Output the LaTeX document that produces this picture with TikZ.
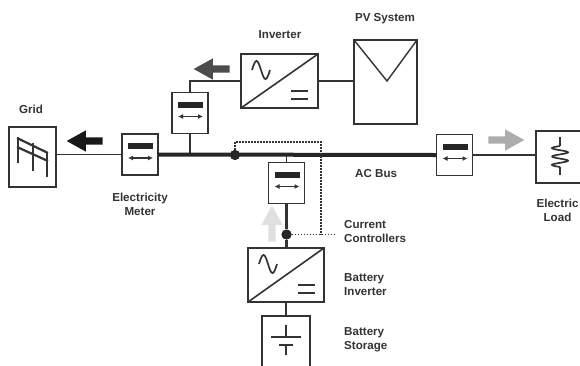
\documentclass[tikz,border=0pt]{standalone}
\usepackage{fontspec}
\setmainfont{Liberation Sans}
\usepackage{xcolor}
\usetikzlibrary{shapes.arrows,arrows.meta}
\definecolor{inkgray}{HTML}{333333}
\tikzset{
    wire/.style={draw=inkgray, line width=1.4pt},
    heavywire/.style={draw=inkgray, line width=2.2pt},
    buswire/.style={draw=black!85, line width=4pt},
    ctrlwire/.style={draw=inkgray, line width=1.9pt, dash pattern=on 1.7pt off 1.3pt},
    unitbox/.style={draw=inkgray, fill=white, line width=1.9pt, inner sep=0pt, outer sep=0pt},
    meterbox/.style={unitbox, minimum width=36pt, minimum height=41pt},
    dotnode/.style={circle, fill=black!85, inner sep=0pt, minimum size=10pt},
    flowarrow/.style={single arrow, draw=none, inner sep=3.5pt, outer sep=0pt, minimum height=36pt,
        minimum width=21pt, single arrow head extend=7pt, single arrow tip angle=58},
    lbl/.style={text=inkgray, font=\fontsize{11.6}{14}\selectfont\bfseries, inner sep=0pt, align=left}
}
\begin{document}
\begin{tikzpicture}[x=1pt, y=-1pt]
                \useasboundingbox (0,0) rectangle (580,365);
                % boxes
                \node[unitbox, minimum width=47pt, minimum height=60pt] (grid) at (32.5,157) {};
                \node[meterbox] (meterGrid) at (140,154.5) {};
                \node[meterbox] (meterPV) at (190,113) {};
                \node[meterbox] (meterBat) at (286.5,183) {};
                \node[meterbox] (meterLoad) at (454.5,155) {};
                \node[unitbox, minimum width=77pt, minimum height=54pt] (pvInverter) at (279.5,81) {};
                \node[unitbox, minimum width=63pt, minimum height=84pt] (pvSystem) at (385.5,82) {};
                \node[unitbox, minimum width=76pt, minimum height=54pt] (batInverter) at (286,275) {};
                \node[unitbox, minimum width=48pt, minimum height=64pt] (batStorage) at (286,348) {};
                \node[unitbox, minimum width=64pt, minimum height=52pt] (load) at (568,157) {};
                \node[dotnode] (busDot) at (235,155) {};
                \node[dotnode] (batDot) at (286.5,234.5) {};
                \coordinate (ctrlTop) at (321,142);
                \coordinate (ctrlEnd) at (336,234.5);
                % connectors
                \draw[wire] (grid.east |- meterGrid) -- (meterGrid.west);
                \draw[wire] (meterLoad.east) -- (load.west |- meterLoad);
                \draw[wire] (meterPV.north) |- (pvInverter.west);
                \draw[wire] (meterPV.south) -- (meterPV.south |- busDot);
                \draw[wire] (pvInverter.east) -- (pvSystem.west |- pvInverter);
                \draw[wire] (meterBat.north |- busDot) -- (meterBat.north);
                \draw[heavywire] (meterBat.south) -- (batDot) -- (batDot |- batInverter.north);
                \draw[heavywire] (batInverter.south) -- (batStorage.north);
                \draw[buswire] (meterGrid.east) -- (meterLoad.west);
                \draw[ctrlwire] (busDot) |- (ctrlTop) -- (ctrlTop |- ctrlEnd);
                \draw[ctrlwire] (batDot) -- (ctrlEnd);
                \node[dotnode] at (busDot) {};
                \node[dotnode] at (batDot) {};
                % symbols
                \foreach \m in {meterGrid,meterPV,meterBat,meterLoad}{
                    \begin{scope}[shift={(\m.north west)}]
                        \fill[black!85] (6,9) rectangle (31,15);
                        \draw[{Latex[length=5pt,width=5pt]}-{Latex[length=5pt,width=5pt]}, inkgray, line width=1.1pt] (6,24) -- (31,24);
                    \end{scope}
                }
                \foreach \inv in {pvInverter,batInverter}{
                    \draw[inkgray, line width=1.6pt] (\inv.south west) -- (\inv.north east);
                    \begin{scope}[shift={(\inv.north west)}]
                        \draw[inkgray, line width=1.7pt, smooth, domain=0:1, samples=25] plot ({11+18*\x},{16-9*sin(360*\x)});
                        \draw[inkgray, line width=1.5pt] (50,37) -- (67,37) (50,45) -- (67,45);
                    \end{scope}
                }
                \draw[inkgray, line width=1.4pt] (pvSystem.north west) -- (387,81) -- (pvSystem.north east);
                % grid pylons
                \draw[inkgray, line width=2.2pt] (17,138) -- (48,153) (17,147) -- (48,161);
                \draw[inkgray, line width=1.8pt] (18,137) -- (18,163) (33,143) -- (33,171) (47,152) -- (47,177);
                % battery
                \draw[inkgray, line width=1.5pt] (286,325) -- (286,337) (271,337) -- (301,337);
                \draw[inkgray, line width=2.8pt] (279,345) -- (293,345);
                \draw[inkgray, line width=1.8pt] (286,345) -- (286,355);
                % resistor
                \draw[inkgray, line width=1.7pt] (560,137) -- (560,146);
                \draw[inkgray, line width=1.7pt, smooth, domain=0:1, samples=50] plot ({560-8*sin(900*\x)},{146+21*\x});
                \draw[inkgray, line width=1.7pt] (560,167) -- (560,175);
                % power flow
                \node[flowarrow, fill=black!90, rotate=180] (flowGrid) at (88,141) {};
                \node[flowarrow, fill=black!70, rotate=180] (flowPV) at (215,69) {};
                \node[flowarrow, fill=black!32] (flowLoad) at (503,140) {};
                \node[flowarrow, fill=black!12, rotate=90] (flowBat) at (272,227) {};
                % labels
                \node[lbl] (gridLabel) at (31,109) {Grid};
                \node[lbl] (inverterLabel) at (280,35) {Inverter};
                \node[lbl] (pvLabel) at (385,19) {PV System};
                \node[lbl, align=center] (meterLabel) at (140,204) {Electricity\\Meter};
                \node[lbl, anchor=west] (busLabel) at (355,174) {AC Bus};
                \node[lbl, anchor=west] (ctrlLabel) at (344,231) {Current\\Controllers};
                \node[lbl, anchor=west] (batInvLabel) at (344,285) {Battery\\Inverter};
                \node[lbl, anchor=west] (batLabel) at (344,340) {Battery\\Storage};
                \node[lbl, align=center] (loadLabel) at (557.5,210) {Electric\\Load};
            \end{tikzpicture}
\end{document}
